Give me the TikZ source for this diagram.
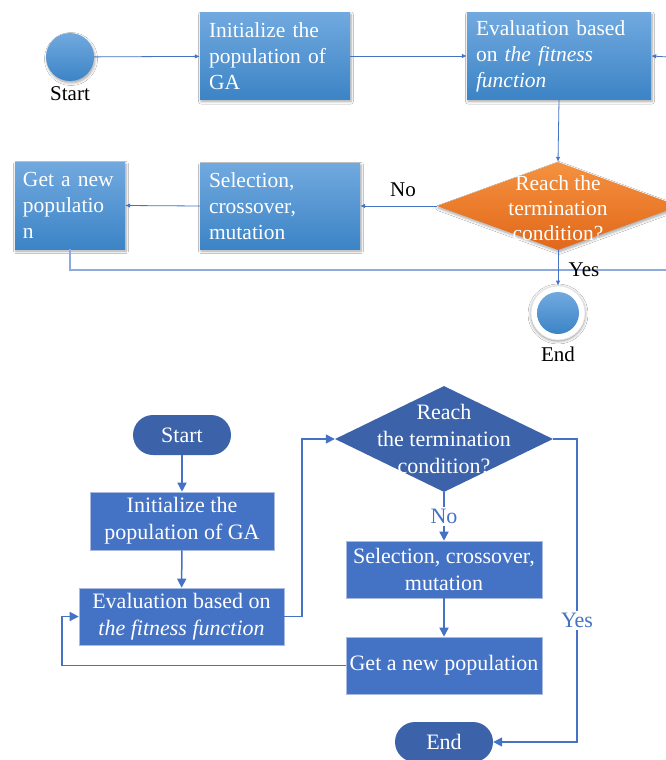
\documentclass[tikz,border=0pt]{standalone}
\usepackage{fontspec}
\setmainfont{Liberation Serif}
\usetikzlibrary{shapes.geometric,arrows.meta,shadows,shadows.blur}

\definecolor{boxtop}{HTML}{71A9DF}
\definecolor{boxbot}{HTML}{3C84C6}
\definecolor{ortop}{HTML}{F4923F}
\definecolor{orbot}{HTML}{E2671A}
\definecolor{linkblue}{HTML}{4472C4}
\definecolor{looplink}{HTML}{8EA9DB}
\definecolor{darkfill}{HTML}{3C63AA}
\definecolor{boxfill}{HTML}{4472C4}
\definecolor{boxedge}{HTML}{A9BCE0}

\tikzset{
  softshadow/.style={blur shadow={shadow xshift=1pt, shadow yshift=-2pt, shadow blur radius=2.5pt,
    shadow blur steps=6, shadow opacity=35}},
  topbox/.style={rectangle, top color=boxtop, bottom color=boxbot, draw=none, softshadow,
    inner sep=0pt, align=left, text=white, font=\fontsize{21.5}{26}\selectfont},
  topdia/.style={diamond, top color=ortop, bottom color=orbot, draw=none, softshadow,
    inner sep=0pt, minimum width=242, minimum height=88},
  topcirc/.style={circle, top color=boxtop, bottom color=boxbot, draw=none, inner sep=0pt},
  toptext/.style={font=\fontsize{21}{25}\selectfont, text=black, inner sep=0pt},
  toparrow/.style={draw=linkblue, line width=0.8pt, -{Latex[length=5pt,width=4.5pt]}},
  loopline/.style={draw=looplink, line width=1.3pt},
  flowbox/.style={rectangle, fill=boxfill, draw=boxedge, line width=0.6pt, inner sep=0pt,
    align=center, text=white, font=\fontsize{22}{27}\selectfont},
  flowdia/.style={diamond, fill=darkfill, draw=none, inner sep=0pt,
    minimum width=218, minimum height=106},
  terminal/.style={rectangle, rounded corners=20pt, fill=darkfill, draw=none,
    minimum width=98, minimum height=40, inner sep=0pt, text=white,
    font=\fontsize{22}{27}\selectfont},
  flowtext/.style={align=center, text=white, font=\fontsize{22}{27}\selectfont, inner sep=0pt},
  botarrow/.style={draw=linkblue, line width=1.5pt, -{Triangle[length=9pt,width=9pt]}},
  botlabel/.style={fill=white, text=linkblue, inner sep=2pt, font=\fontsize{22}{27}\selectfont},
}

\begin{document}
\begin{tikzpicture}[x=1pt,y=-1pt]
\useasboundingbox[fill=white] (0,0) rectangle (665,760);

% ---------- process chart with rectangles and circles ----------
\node[topcirc, minimum size=48, softshadow] (s1) at (70,57) {};
\node[toptext] (s1lbl) at (70,94) {Start};

\node[topbox, minimum width=150, minimum height=87, text width=132] (init1) at (275,56)
  {Initialize the\\population of\\GA};
\node[topbox, minimum width=184, minimum height=87, text width=166] (eval1) at (559,56)
  {Evaluation based\\on \textit{the fitness}\\\textit{function}};
\node[topdia] (dia1) at (558,206) {};
\node[align=center, text=white, font=\fontsize{21.5}{25}\selectfont, inner sep=0pt] (dia1txt) at (558,208)
  {Reach the\\termination\\condition?};
\node[topbox, minimum width=160, minimum height=86, text width=142] (sel1) at (280,206)
  {Selection,\\crossover,\\mutation};
\node[topbox, minimum width=110, minimum height=87, text width=94] (new1) at (70,205.5)
  {Get a new\\populatio\\n};

\node[circle, fill=white, draw=black!10, line width=0.6pt, minimum size=54, inner sep=0pt,
  blur shadow={shadow xshift=0pt, shadow yshift=-1pt, shadow blur radius=3pt,
    shadow blur steps=6, shadow opacity=45}] (end1) at (558,313) {};
\node[topcirc, minimum size=42] (end1in) at (558,313) {};
\node[toptext] (end1lbl) at (558,354) {End};

\node[toptext] (no1) at (403,190) {No};

\coordinate (rin) at (668,57);
\coordinate (rout) at (668,270);

\draw[toparrow] (s1) -- (init1);
\draw[toparrow] (init1) -- (eval1);
\draw[toparrow] (rin) -- (eval1.east);
\draw[toparrow] (eval1.south) -- (dia1.north);
\draw[toparrow] (dia1.west) -- (sel1.east);
\draw[toparrow] (sel1.west) -- (new1.east);
\draw[loopline] (new1.south) |- (rout);
\draw[toparrow] (dia1.south) -- (end1.north);
\node[toptext] (yes1) at (584,270) {Yes};

% ---------- standard flowchart ----------
\node[terminal] (s2) at (182,435) {Start};
\node[flowbox, minimum width=184, minimum height=58] (init2) at (182,521)
  {Initialize the\\population of GA};
\node[flowbox, minimum width=205, minimum height=57] (eval2) at (181.5,616.5)
  {Evaluation based on\\\textit{the fitness function}};
\node[flowdia] (dia2) at (444,439) {};
\node[flowtext] (dia2txt) at (444,439) {Reach\\the termination\\condition?};
\node[flowbox, minimum width=196, minimum height=57] (sel2) at (444,569.5)
  {Selection, crossover,\\mutation};
\node[flowbox, minimum width=196, minimum height=57] (new2) at (444,665.5)
  {Get a new population};
\node[terminal] (end2) at (444,742) {End};

\coordinate (jr) at (302,439);
\coordinate (jl) at (62,616.5);
\coordinate (jy) at (577,439);
\coordinate (jy2) at (577,742);

\draw[botarrow] (s2) -- (init2);
\draw[botarrow] (init2) -- (eval2);
\draw[botarrow] (eval2.east) -| (jr) -- (dia2.west);
\draw[botarrow] (dia2.south) -- node[botlabel] (no2) {No} (sel2.north);
\draw[botarrow] (sel2) -- (new2);
\draw[botarrow] (new2.west) -| (jl) -- (eval2.west);
\draw[botarrow] (dia2.east) -- (jy) -- node[botlabel, pos=0.6] (yes2) {Yes} (jy2) -- (end2.east);
\end{tikzpicture}
\end{document}
